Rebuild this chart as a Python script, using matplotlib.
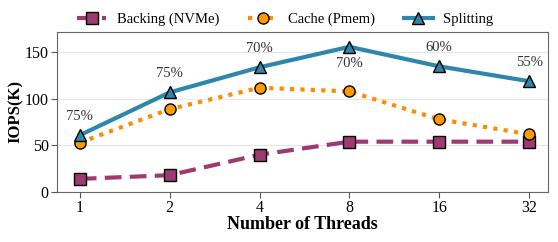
import matplotlib
matplotlib.use("Agg")
from matplotlib import pyplot as plt

threads = ["1", "2", "4", "8", "16", "32"]
backing = [14, 18, 40, 54, 54, 54]
cache = [53, 89, 112, 108, 78, 62]
splitting = [61, 107, 134, 156, 135, 119]
ratios = ["75%", "75%", "70%", "70%", "60%", "55%"]
ratio_below = [False, False, False, True, False, False]

plt.rcParams['font.family'] = ['Liberation Serif', 'DejaVu Serif']

fig, ax = plt.subplots(figsize=(5.58, 2.42), dpi=100)
xs = range(len(threads))

ax.plot(xs, backing, color="#9e3a72", lw=3, ls=(0, (4, 2)), marker="s", ms=8,
        mfc="#9e3a72", mec="black", mew=1, label="Backing (NVMe)")
ax.plot(xs, cache, color="#ff8c00", lw=3, ls=(0, (1, 1.5)), marker="o", ms=8,
        mfc="#ff9a00", mec="black", mew=1, label="Cache (Pmem)")
ax.plot(xs, splitting, color="#2e86ab", lw=3, ls="-", marker="^", ms=8,
        mfc="#2e86ab", mec="black", mew=1, label="Splitting")

for x, y, r, below in zip(xs, splitting, ratios, ratio_below):
    if below:
        ax.annotate(r, (x, y), xytext=(0, -7), textcoords="offset points",
                    ha="center", va="top", fontsize=10.5, color="#333333")
    else:
        ax.annotate(r, (x, y), xytext=(0, 9), textcoords="offset points",
                    ha="center", va="bottom", fontsize=10.5, color="#333333")

ax.set_xticks(list(xs))
ax.set_xticklabels(threads)
ax.set_xlim(-0.255, 5.21)
ax.set_ylim(0, 172)
ax.set_yticks([0, 50, 100, 150])
ax.yaxis.grid(True, color="#e6e6e6", lw=0.8)
ax.set_axisbelow(True)
ax.tick_params(labelsize=11.5, length=4, color="#555555", pad=2)
for s in ax.spines.values():
    s.set_color("#666666")

ax.set_xlabel("Number of Threads", fontsize=13, fontweight="bold", labelpad=0)
ax.set_ylabel("IOPS(K)", fontsize=12, fontweight="bold", va="center")
ax.yaxis.set_label_coords(-0.084, 0.5)

# legend sits a bit left of centre in the original
ax.legend(loc="lower center", bbox_to_anchor=(0.465, 0.98), ncol=3, frameon=False,
          fontsize=10.5, handlelength=2.0, handletextpad=0.7, columnspacing=2.0,
          borderaxespad=0.2)

fig.subplots_adjust(left=0.102, right=0.982, top=0.868, bottom=0.207)
fig.savefig("out.png", dpi=100)
